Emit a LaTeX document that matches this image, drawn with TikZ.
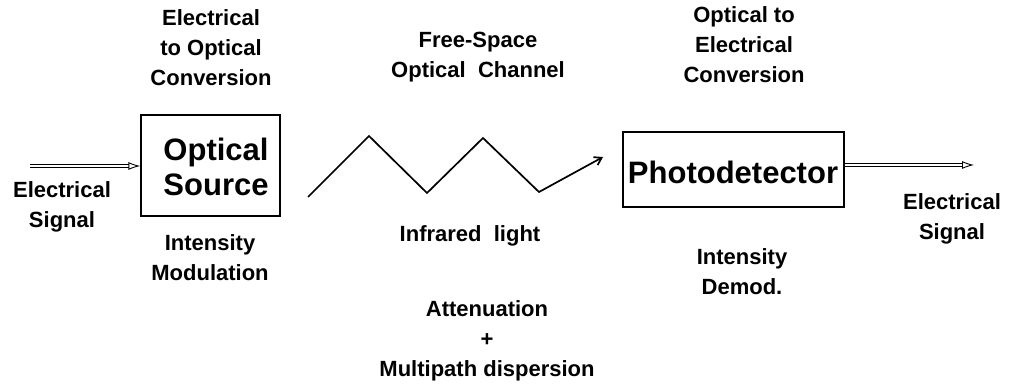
\documentclass[tikz,border=0pt]{standalone}
\usepackage{fontspec}
\setmainfont{Liberation Sans}
\usetikzlibrary{arrows.meta}
\tikzset{
  lbl/.style={align=center, inner sep=0pt, font=\bfseries\fontsize{22}{30}\selectfont},
  big/.style={align=center, inner sep=0pt, font=\bfseries\fontsize{31}{35}\selectfont},
  blockbox/.style={draw, line width=1.3pt},
  dblarrow/.style={double, double distance=2.5pt, line width=0.9pt, -{Latex[open,length=12pt,width=8pt]}},
  ray/.style={line width=1.7pt, -{Straight Barb[length=7pt,width=9pt]}}
}
\begin{document}
\begin{tikzpicture}[x=1pt,y=-1pt]
\useasboundingbox (0,0) rectangle (1011,390);
% boxes
\node[blockbox, minimum width=139pt, minimum height=101pt, inner sep=0pt] (src) at (210.5,165.5) {};
\node[big] (srct) at (216,167) {Optical\\Source};
\node[blockbox, minimum width=221pt, minimum height=75pt, inner sep=0pt] (det) at (733.5,169.5) {};
\node[big] (dett) at (733,172) {Photodetector};
% labels
\node[lbl] (eoc) at (211,48) {Electrical\\to Optical\\Conversion};
\node[lbl] (ein) at (62,207) {Electrical\\Signal};
\node[lbl] (im) at (210,258) {Intensity\\Modulation};
\node[lbl] (fso) at (478,57) {Free-Space\\Optical\ \ Channel};
\node[lbl] (ir) at (470,236) {Infrared\ \ light};
\node[lbl] (oec) at (744,45) {Optical to\\Electrical\\Conversion};
\node[lbl] (idm) at (742,272) {Intensity\\Demod.};
\node[lbl] (eout) at (952,219) {Electrical\\Signal};
\node[lbl] (att) at (487,341) {Attenuation\\+\\Multipath dispersion};
% input/output arrows
\coordinate (inS) at (30,166);
\coordinate (outE) at (974,165);
\draw[dblarrow] (inS) -- (src.west |- inS);
\draw[dblarrow] (det.east |- outE) -- (outE);
% zigzag channel
\coordinate (z0) at (308,197);
\coordinate (z1) at (369,136);
\coordinate (z2) at (427,193);
\coordinate (z3) at (483,138);
\coordinate (z4) at (539,192);
\coordinate (z5) at (603,157);
\draw[ray, line join=miter] (z0) -- (z1) -- (z2) -- (z3) -- (z4) -- (z5);
\end{tikzpicture}
\end{document}
